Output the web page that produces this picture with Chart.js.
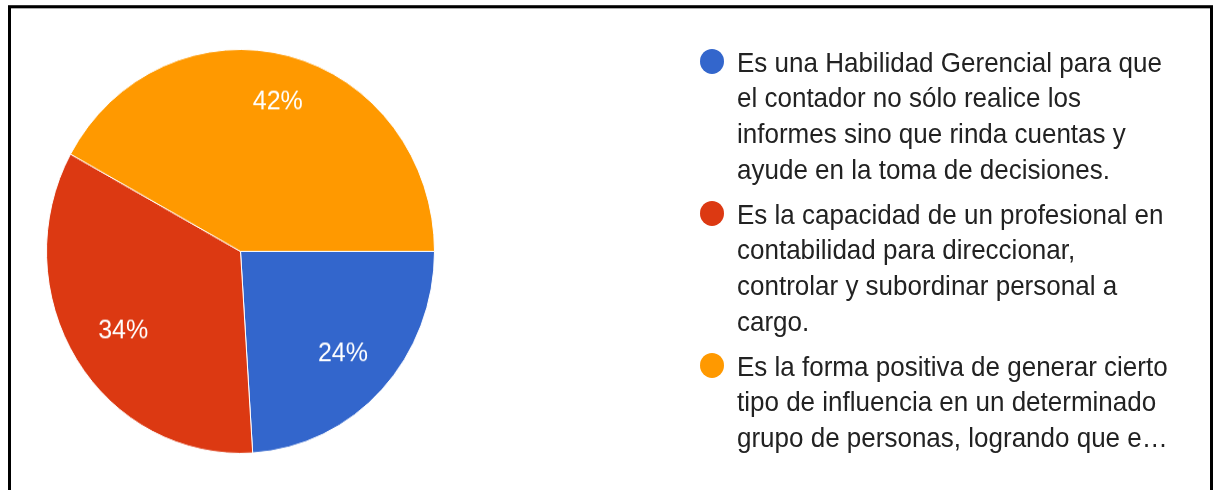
<!DOCTYPE html>
<html>
<head>
<meta charset="utf-8">
<script src="https://cdn.jsdelivr.net/npm/chart.js@4.4.1/dist/chart.umd.min.js"></script>
<style>
  html, body { margin: 0; padding: 0; background: #fff; }
  body { width: 1215px; height: 490px; overflow: hidden; position: relative; }
  #page {
    position: absolute; left: 0; top: 0; width: 1215px; height: 471px;
    transform: scaleY(1.041); transform-origin: 0 0;
  }
  #frame {
    position: absolute; left: 8px; top: 4.8px; width: 1205px; height: 500px;
    border: 3px solid #000; box-sizing: border-box;
  }
  #pieBox { position: absolute; left: 46px; top: 46.6px; width: 389px; height: 389px; }
  #legend {
    position: absolute; left: 700px; top: 43.3px; width: 510px;
    font-family: "Liberation Sans", Arial, sans-serif; font-size: 26px;
    line-height: 34.1px; color: #222;
  }
  .item { position: relative; padding-left: 37px; margin-bottom: 9.6px; }
  .dot { position: absolute; left: 0; top: 3.6px; width: 24px; height: 24px; border-radius: 50%; }
</style>
</head>
<body>
<div id="page">
  <div id="frame"></div>
  <div id="pieBox"><canvas id="pie"></canvas></div>
  <div id="legend"></div>
</div>
<script>
const labels = [
  ['Es una Habilidad Gerencial para que', 'el contador no sólo realice los', 'informes sino que rinda cuentas y', 'ayude en la toma de decisiones.'],
  ['Es la capacidad de un profesional en', 'contabilidad para direccionar,', 'controlar y subordinar personal a', 'cargo.'],
  ['Es la forma positiva de generar cierto', 'tipo de influencia en un determinado', 'grupo de personas, logrando que e…']
]
const values = [24, 34, 42]
const colors = ['#3366CC', '#DC3912', '#FF9900']

// legend
const legendBox = document.getElementById('legend')
labels.forEach((lines, i) => {
  legendBox.innerHTML += `<div class="item"><span class="dot" style="background:${colors[i]}"></span>${lines.join('<br>')}</div>`
})

// percent labels inside the slices
const sliceLabels = {
  id: 'sliceLabels',
  afterDatasetsDraw(chart) {
    const ctx = chart.ctx
    const meta = chart.getDatasetMeta(0)
    const total = values.reduce((a, b) => a + b, 0)
    const size = 25
    ctx.save()
    ctx.font = `${size}px "Liberation Sans", Arial, sans-serif`
    ctx.fillStyle = '#fff'
    ctx.textAlign = 'center'
    ctx.textBaseline = 'alphabetic'
    meta.data.forEach((arc, i) => {
      const { x, y, startAngle, endAngle, outerRadius } = arc.getProps(['x', 'y', 'startAngle', 'endAngle', 'outerRadius'], true)
      const mid = (startAngle + endAngle) / 2
      const text = Math.round(values[i] / total * 100) + '%'
      const hw = ctx.measureText(text).width / 2
      const hh = size * 0.716 / 2
      const d = outerRadius * 0.85 - (hw * Math.abs(Math.cos(mid)) + hh * Math.abs(Math.sin(mid)))
      ctx.fillText(text, x + Math.cos(mid) * d, y + Math.sin(mid) * d + hh)
    })
    ctx.restore()
  }
}

new Chart(document.getElementById('pie'), {
  type: 'pie',
  data: {
    labels: labels,
    datasets: [{
      data: values,
      backgroundColor: colors,
      borderColor: '#fff',
      borderWidth: 1
    }]
  },
  options: {
    responsive: true,
    maintainAspectRatio: false,
    animation: false,
    rotation: 90,
    layout: { padding: 0 },
    plugins: {
      legend: { display: false },
      tooltip: { enabled: false }
    }
  },
  plugins: [sliceLabels]
})
</script>
</body>
</html>
